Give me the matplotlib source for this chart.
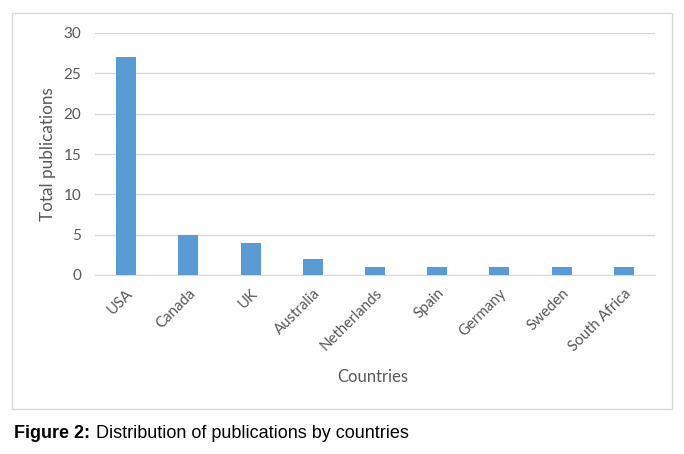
import matplotlib
matplotlib.use("Agg")
import matplotlib.pyplot as plt
from matplotlib.patches import Rectangle

countries = ["USA", "Canada", "UK", "Australia", "Netherlands", "Spain", "Germany", "Sweden", "South Africa"]
publications = [27, 5, 4, 2, 1, 1, 1, 1, 1]
yticks = [0, 5, 10, 15, 20, 25, 30]

W, H = 684, 454
fig = plt.figure(figsize=(W / 100, H / 100), dpi=100)
fig.patch.set_facecolor("white")

# outer chart border
fig.patches.append(Rectangle((12 / W, 1 - 409 / H), (672 - 12) / W, (409 - 13) / H,
                             transform=fig.transFigure, fill=False,
                             edgecolor="#d9d9d9", linewidth=1.0))

left, right, top, bottom = 95, 655, 33, 275
ax = fig.add_axes([left / W, 1 - bottom / H, (right - left) / W, (bottom - top) / H])
x = list(range(len(countries)))
ax.bar(x, publications, width=0.32, color="#5b9bd5", zorder=3)
ax.set_xlim(-0.5, len(countries) - 0.5)
ax.set_ylim(0, 30)
ax.set_yticks(yticks)
ax.grid(axis="y", color="#d9d9d9", linewidth=1.0, zorder=0)
for s in ["top", "right", "left"]:
    ax.spines[s].set_visible(False)
ax.spines["bottom"].set_color("#d9d9d9")
ax.tick_params(axis="both", length=0, colors="#595959")
ax.tick_params(axis="y", pad=10, labelsize=11)
ax.tick_params(axis="x", pad=8, labelsize=10.8)
ax.set_xticks(x)
ax.set_xticklabels(countries, rotation=45, ha="right", rotation_mode="anchor",
                   fontfamily="Lato", color="#595959")
for lab in ax.get_yticklabels():
    lab.set_fontfamily("Lato")

fig.text(48 / W, 1 - 154 / H, "Total publications", rotation=90, ha="center", va="center",
         fontfamily="Lato", fontsize=12.3, color="#595959")
fig.text(373 / W, 1 - 377 / H, "Countries", ha="center", va="center",
         fontfamily="Lato", fontsize=12, color="#595959")

fig.text(14 / W, 1 - 433 / H, "Figure 2:", ha="left", va="center",
         fontfamily="Liberation Sans", fontsize=13, fontweight="bold", color="black")
fig.text(96 / W, 1 - 433 / H, "Distribution of publications by countries", ha="left", va="center",
         fontfamily="Liberation Sans", fontsize=13, color="black")

fig.savefig("out.png", dpi=100)
